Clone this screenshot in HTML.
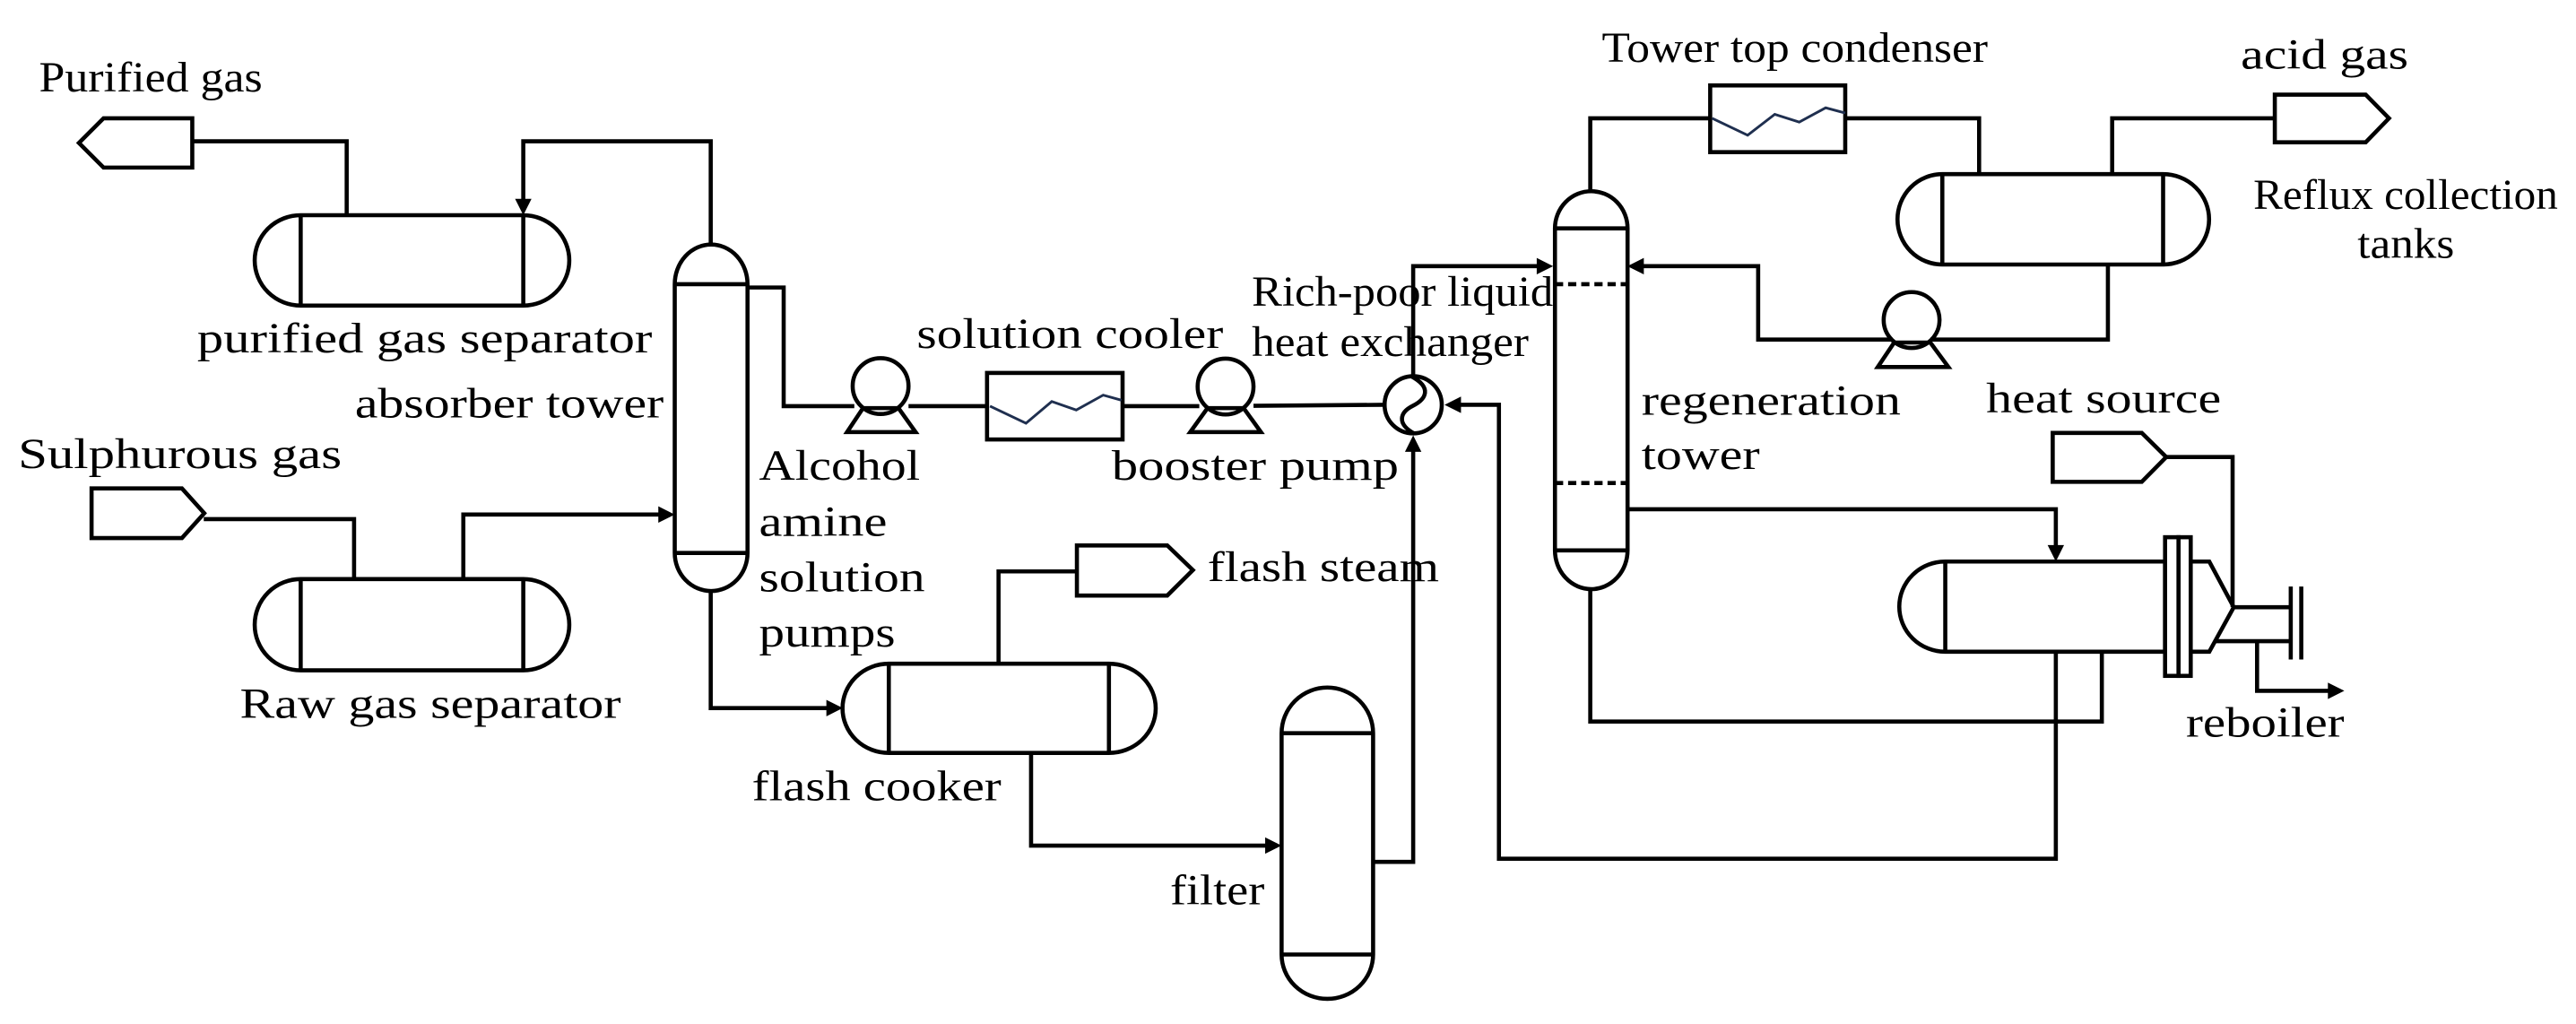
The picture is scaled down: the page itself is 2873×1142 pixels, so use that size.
<!DOCTYPE html>
<html><head><meta charset="utf-8"><style>
html,body{margin:0;padding:0;background:#fff;}
svg{display:block;}
text{font-family:"Liberation Serif",serif;font-size:26px;fill:#000;}
</style></head><body>
<svg width="2873" height="1142" viewBox="0 0 1568 623.3" xmlns="http://www.w3.org/2000/svg">
<defs>
<marker id="ar" viewBox="0 0 10 10" refX="10" refY="5" markerWidth="4.5" markerHeight="4.5" orient="auto" markerUnits="userSpaceOnUse">
</marker>
</defs>
<rect width="1568" height="623.3" fill="#fff"/>
<g fill="none" stroke="#000" stroke-width="2.5" stroke-linejoin="miter">
<!-- Purified gas tag -->
<polygon points="48,87 63,72 117,72 117,102 63,102"/>
<polyline points="117,86 211,86 211,131"/>
<!-- purified gas separator -->
<path d="M183,131 H318.5 A28,27.5 0 0 1 318.5,186 H183 A28,27.5 0 0 1 183,131 Z"/>
<line x1="183" y1="131" x2="183" y2="186"/><line x1="318.5" y1="131" x2="318.5" y2="186"/>
<polyline points="432.6,149 432.6,86 318.5,86 318.5,124"/>
<!-- sulphurous tag -->
<polygon points="55.7,297.3 110.7,297.3 124.3,312.4 110.7,327.5 55.7,327.5"/>
<polyline points="124,316 215.5,316 215.5,352.5"/>
<!-- raw gas separator -->
<path d="M183,352.5 H318.5 A28,27.75 0 0 1 318.5,408 H183 A28,27.75 0 0 1 183,352.5 Z"/>
<line x1="183" y1="352.5" x2="183" y2="408"/><line x1="318.5" y1="352.5" x2="318.5" y2="408"/>
<polyline points="282,352.5 282,313.2 403,313.2"/>
<!-- absorber tower -->
<path d="M410.7,173 A22,24 0 0 1 455,173 V336.6 A22,23 0 0 1 410.7,336.6 Z"/>
<line x1="410.7" y1="173" x2="455" y2="173"/><line x1="410.7" y1="336.6" x2="455" y2="336.6"/>
<polyline points="455,175 477,175 477,247.2 520,247.2"/>
<polyline points="432.6,360 432.6,431 506,431"/>
<!-- pump 1 -->
<circle cx="536" cy="235" r="17"/>
<polygon points="525.3,248.4 546.9,248.4 557.3,263 515.6,263"/>
<line x1="553" y1="247.2" x2="600.8" y2="247.2"/>
<!-- cooler -->
<rect x="600.8" y="227" width="82.5" height="40.5"/>
<line x1="683.3" y1="247.2" x2="730" y2="247.2"/>
<!-- pump 2 -->
<circle cx="746" cy="235.3" r="17"/>
<polygon points="735,248.4 757,248.4 767.5,263 724.5,263"/>
<line x1="763" y1="247" x2="843" y2="246.4"/>
<!-- heat exchanger -->
<circle cx="860.2" cy="246.4" r="17.4"/>
<path d="M859,229 C872,236 868,243 860,247 C852,251 850,258 861,264"/>
<polyline points="835.8,524.6 860.2,524.6 860.2,272"/>
<polyline points="860.2,229 860.2,162 938,162"/>
<polyline points="886,246.4 912.4,246.4 912.4,522.7 1251.4,522.7 1251.4,396.7"/>
<!-- regen tower -->
<path d="M946.5,139 A22,22.5 0 0 1 990.7,139 V335 A22,23.5 0 0 1 946.5,335 Z"/>
<line x1="946.5" y1="139" x2="990.7" y2="139"/><line x1="946.5" y1="335" x2="990.7" y2="335"/>
<line x1="946.5" y1="173" x2="990.7" y2="173" stroke-dasharray="5,3"/>
<line x1="946.5" y1="294" x2="990.7" y2="294" stroke-dasharray="5,3"/>
<polyline points="968,116.5 968,72 1041,72"/>
<polyline points="968,358.5 968,439.2 1279.4,439.2 1279.4,396.7"/>
<polyline points="990.7,310 1251.4,310 1251.4,334"/>
<!-- flash steam -->
<polygon points="655.5,332 710.5,332 726.1,347 710.5,362.5 655.5,362.5"/>
<polyline points="607.8,403.4 607.8,347.8 655.5,347.8"/>
<!-- flash cooker -->
<path d="M541,404 H675 A28.5,27.15 0 0 1 675,458.3 H541 A28.2,27.15 0 0 1 541,404 Z"/>
<line x1="541" y1="404" x2="541" y2="458.3"/><line x1="675" y1="404" x2="675" y2="458.3"/>
<polyline points="627.6,458.3 627.6,514.7 773,514.7"/>
<!-- filter -->
<path d="M780.1,446.3 A27.85,27.8 0 0 1 835.8,446.3 V581 A27.85,27 0 0 1 780.1,581 Z"/>
<line x1="780.1" y1="446.3" x2="835.8" y2="446.3"/><line x1="780.1" y1="581" x2="835.8" y2="581"/>
<!-- condenser -->
<rect x="1041" y="52" width="82.2" height="40.6"/>
<polyline points="1123.2,72 1204.7,72 1204.7,106"/>
<!-- reflux tank -->
<path d="M1182.3,106 H1316.7 A28,27.5 0 0 1 1316.7,161 H1182.3 A27.3,27.5 0 0 1 1182.3,106 Z"/>
<line x1="1182.3" y1="106" x2="1182.3" y2="161"/><line x1="1316.7" y1="106" x2="1316.7" y2="161"/>
<polyline points="1285.7,106 1285.7,72 1384.7,72"/>
<polygon points="1384.7,57.6 1440,57.6 1454.2,72 1440,86.6 1384.7,86.6"/>
<polyline points="1283.1,161 1283.1,206.7 1175,206.7"/>
<circle cx="1163.6" cy="194.8" r="17"/>
<polygon points="1153,208.5 1175,208.5 1186,223.4 1143,223.4"/>
<polyline points="1152,206.7 1070.2,206.7 1070.2,162 998,162"/>
<!-- heat source -->
<polygon points="1249.5,263.5 1303.7,263.5 1318.6,278.2 1303.7,293.3 1249.5,293.3"/>
<polyline points="1318.6,278.2 1359,278.2 1359,369.6"/>
<!-- reboiler -->
<path d="M1184.1,341.8 H1317.9 V396.7 H1184.1 A28,27.45 0 0 1 1184.1,341.8 Z"/>
<line x1="1184.1" y1="341.8" x2="1184.1" y2="396.7"/>
<rect x="1317.9" y="327" width="8.2" height="84.4"/>
<rect x="1326.1" y="327" width="7.4" height="84.4"/>
<polyline points="1333.5,341.8 1344.8,341.8 1359.7,369.6 1344.8,396.7 1333.5,396.7"/>
<line x1="1359.7" y1="369.6" x2="1394" y2="369.6"/>
<line x1="1348" y1="390.3" x2="1394" y2="390.3"/>
<line x1="1394.4" y1="357" x2="1394.4" y2="401.4"/>
<line x1="1400.8" y1="357" x2="1400.8" y2="401.4"/>
<polyline points="1373.9,390.3 1373.9,420.5 1418,420.5"/>
</g>
<!-- zigzags -->
<g fill="none" stroke="#1f2f4f" stroke-width="1.6">
<polyline points="602.6,247.2 624.5,257.6 640.2,244.4 655.1,249.6 671.5,240.5 682.6,243.6"/>
<polyline points="1042.2,72 1063.8,82.3 1080.3,69.6 1095.2,74.3 1111.3,65.6 1123.2,68.8"/>
</g>
<!-- arrowheads -->
<g fill="#000">
<polygon points="318.5,131 313.5,121 323.5,121"/>
<polygon points="410.7,313.2 400.7,308.2 400.7,318.2"/>
<polygon points="513,431 503,426 503,436"/>
<polygon points="860.2,265 855.2,275 865.2,275"/>
<polygon points="945.4,162 935.4,157 935.4,167"/>
<polygon points="879.3,246.4 889.3,241.4 889.3,251.4"/>
<polygon points="780.1,514.7 770.1,509.7 770.1,519.7"/>
<polygon points="1251.4,341.8 1246.4,331.8 1256.4,331.8"/>
<polygon points="990.6,162 1000.6,157 1000.6,167"/>
<polygon points="1427,420.5 1417,415.5 1417,425.5"/>
</g>
<!-- labels -->
<text x="23.7" y="55.6" textLength="136" lengthAdjust="spacingAndGlyphs">Purified gas</text>
<text x="120" y="214.6" textLength="277" lengthAdjust="spacingAndGlyphs">purified gas separator</text>
<text x="216" y="254" textLength="188" lengthAdjust="spacingAndGlyphs">absorber tower</text>
<text x="11" y="285" textLength="197" lengthAdjust="spacingAndGlyphs">Sulphurous gas</text>
<text x="146" y="437" textLength="232" lengthAdjust="spacingAndGlyphs">Raw gas separator</text>
<text x="462" y="292" textLength="98" lengthAdjust="spacingAndGlyphs">Alcohol</text>
<text x="462" y="326" textLength="78" lengthAdjust="spacingAndGlyphs">amine</text>
<text x="462" y="360" textLength="101" lengthAdjust="spacingAndGlyphs">solution</text>
<text x="462" y="393.5" textLength="83" lengthAdjust="spacingAndGlyphs">pumps</text>
<text x="558" y="211.8" textLength="186.6" lengthAdjust="spacingAndGlyphs">solution cooler</text>
<text x="676.7" y="292" textLength="174.7" lengthAdjust="spacingAndGlyphs">booster pump</text>
<text x="762" y="186" textLength="183.4" lengthAdjust="spacingAndGlyphs">Rich-poor liquid</text>
<text x="762" y="216.6" textLength="168.5" lengthAdjust="spacingAndGlyphs">heat exchanger</text>
<text x="735" y="353.7" textLength="141" lengthAdjust="spacingAndGlyphs">flash steam</text>
<text x="457.7" y="487" textLength="151.8" lengthAdjust="spacingAndGlyphs">flash cooker</text>
<text x="712.2" y="550.5" textLength="57.5" lengthAdjust="spacingAndGlyphs">filter</text>
<text x="975" y="37.8" textLength="235" lengthAdjust="spacingAndGlyphs">Tower top condenser</text>
<text x="1364" y="41.7" textLength="102" lengthAdjust="spacingAndGlyphs">acid gas</text>
<text x="1371.6" y="127.2" textLength="185.4" lengthAdjust="spacingAndGlyphs">Reflux collection</text>
<text x="1435" y="157" textLength="59" lengthAdjust="spacingAndGlyphs">tanks</text>
<text x="999.2" y="252.4" textLength="157.8" lengthAdjust="spacingAndGlyphs">regeneration</text>
<text x="999.2" y="285.4" textLength="72" lengthAdjust="spacingAndGlyphs">tower</text>
<text x="1209" y="251.2" textLength="143" lengthAdjust="spacingAndGlyphs">heat source</text>
<text x="1330.6" y="448.3" textLength="96.4" lengthAdjust="spacingAndGlyphs">reboiler</text>
</svg>
</body></html>
